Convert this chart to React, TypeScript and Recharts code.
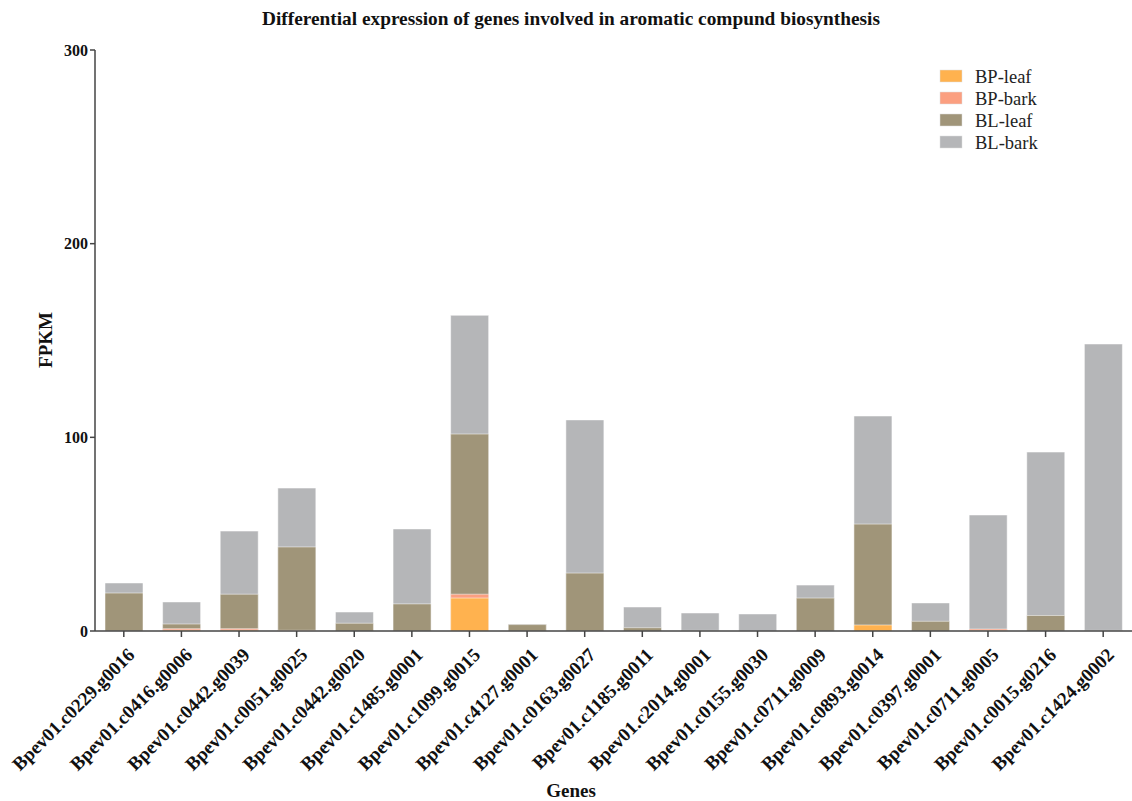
import React from 'react';
import { BarChart, Bar, XAxis, YAxis, Legend } from 'recharts';

if (typeof document !== 'undefined') {
  document.body.style.margin = '0';
}

const genes = [
  'Bpev01.c0229.g0016',
  'Bpev01.c0416.g0006',
  'Bpev01.c0442.g0039',
  'Bpev01.c0051.g0025',
  'Bpev01.c0442.g0020',
  'Bpev01.c1485.g0001',
  'Bpev01.c1099.g0015',
  'Bpev01.c4127.g0001',
  'Bpev01.c0163.g0027',
  'Bpev01.c1185.g0011',
  'Bpev01.c2014.g0001',
  'Bpev01.c0155.g0030',
  'Bpev01.c0711.g0009',
  'Bpev01.c0893.g0014',
  'Bpev01.c0397.g0001',
  'Bpev01.c0711.g0005',
  'Bpev01.c0015.g0216',
  'Bpev01.c1424.g0002',
];

const bpLeaf = [0, 0.5, 0.5, 0.3, 0, 0, 17, 0, 0, 0, 0, 0, 0, 3.1, 0, 0.3, 0, 0];
const bpBark = [0, 1.2, 1.2, 0.3, 0, 0, 19, 0, 0, 0, 0, 0, 0, 0, 0, 1.0, 0, 0];
const blLeaf = [19.6, 3.6, 19, 43.4, 4, 14, 101.7, 3.3, 29.9, 1.7, 0.3, 0, 17, 55.2, 5, 0, 8, 0.3];
const blBark = [24.8, 15, 51.6, 73.8, 9.8, 52.7, 163, 3.6, 109, 12.4, 9.3, 8.8, 23.7, 111, 14.5, 59.9, 92.4, 148.2];

const yTicks = [0, 100, 200, 300];

// drawn back to front; legend lists them in reverse
const series = [
  { key: 'blBark', name: 'BL-bark', color: '#b5b6b8' },
  { key: 'blLeaf', name: 'BL-leaf', color: '#a09579' },
  { key: 'bpBark', name: 'BP-bark', color: '#fb9f80' },
  { key: 'bpLeaf', name: 'BP-leaf', color: '#ffb24f' },
];

const data = genes.map((g, i) => ({
  gene: g,
  bpLeaf: bpLeaf[i],
  bpBark: bpBark[i],
  blLeaf: blLeaf[i],
  blBark: blBark[i],
}));

const FONT = '"Liberation Serif", "Times New Roman", serif';
const BAR = 38;

const GeneTick = (props: any) => {
  const { x, y, payload } = props;
  const ax = x + 12;
  const ay = y + 17;
  return (
    <text
      x={ax}
      y={ay}
      transform={`rotate(-45, ${ax}, ${ay})`}
      textAnchor="end"
      fontFamily={FONT}
      fontWeight="bold"
      fontSize={19}
      fill="#111"
    >
      {payload.value}
    </text>
  );
};

const LegendBox = () => (
  <g>
    {[...series].reverse().map((s, i) => (
      <g key={s.key}>
        <rect x={940} y={70 + i * 22} width={22} height={12} fill={s.color} stroke="#ddd" strokeWidth={0.5} />
        <text x={975} y={83 + i * 22} fontFamily={FONT} fontSize={18.5} fill="#222">
          {s.name}
        </text>
      </g>
    ))}
  </g>
);

export default function App() {
  return (
    <div style={{ width: 1132, height: 801, background: '#fff' }}>
      <BarChart
        width={1132}
        height={801}
        data={data}
        margin={{ top: 50, right: 0, left: 55, bottom: 50 }}
        barSize={BAR}
        barGap={-BAR}
      >
        <text x={571} y={25} textAnchor="middle" fontFamily={FONT} fontWeight="bold" fontSize={19}
          textLength={618} lengthAdjust="spacingAndGlyphs" fill="#111">
          Differential expression of genes involved in aromatic compund biosynthesis
        </text>
        <text x={571} y={797} textAnchor="middle" fontFamily={FONT} fontWeight="bold" fontSize={19} fill="#111">
          Genes
        </text>
        <text x={52} y={340} textAnchor="middle" transform="rotate(-90, 52, 340)" fontFamily={FONT}
          fontWeight="bold" fontSize={19} fill="#111">
          FPKM
        </text>
        <XAxis
          dataKey="gene"
          interval={0}
          height={120}
          tick={<GeneTick />}
          tickSize={6}
          axisLine={{ stroke: '#444', strokeWidth: 1.5 }}
          tickLine={{ stroke: '#444', strokeWidth: 1.5 }}
        />
        <YAxis
          domain={[0, 300]}
          ticks={yTicks}
          width={40}
          tickSize={5}
          axisLine={{ stroke: '#444', strokeWidth: 1.5 }}
          tickLine={{ stroke: '#444', strokeWidth: 1.5 }}
          tick={{ fontFamily: FONT, fontWeight: 'bold', fontSize: 16, fill: '#111' }}
        />
        {series.map((s) => (
          <Bar
            key={s.key}
            dataKey={s.key}
            name={s.name}
            fill={s.color}
            stroke="#ffffff"
            strokeOpacity={0.5}
            strokeWidth={1}
            isAnimationActive={false}
          />
        ))}
        <Legend content={() => null} />
        <LegendBox />
      </BarChart>
    </div>
  );
}
